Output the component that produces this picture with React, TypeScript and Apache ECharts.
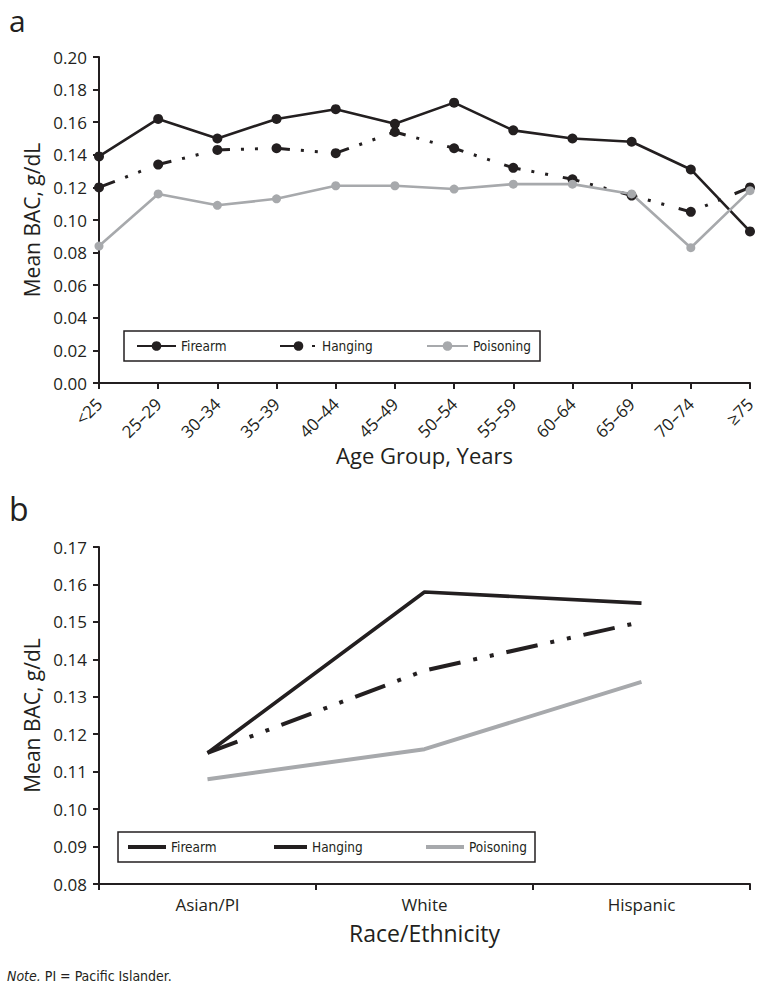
import React, { useEffect, useRef } from "react";
import * as echarts from "echarts";

// ---- Data (panel a: by age group) ----
const ageGroups = ["<25", "25–29", "30–34", "35–39", "40–44", "45–49", "50–54", "55–59", "60–64", "65–69", "70–74", "≥75"];
const firearmAge = [0.139, 0.162, 0.150, 0.162, 0.168, 0.159, 0.172, 0.155, 0.150, 0.148, 0.131, 0.093];
const hangingAge = [0.120, 0.134, 0.143, 0.144, 0.141, 0.154, 0.144, 0.132, 0.125, 0.115, 0.105, 0.120];
const poisoningAge = [0.084, 0.116, 0.109, 0.113, 0.121, 0.121, 0.119, 0.122, 0.122, 0.116, 0.083, 0.118];

// ---- Data (panel b: by race/ethnicity) ----
const raceGroups = ["Asian/PI", "White", "Hispanic"];
const firearmRace = [0.115, 0.158, 0.155];
const hangingRace = [0.115, 0.137, 0.150];
const poisoningRace = [0.108, 0.116, 0.134];

const seriesNames = ["Firearm", "Hanging", "Poisoning"];

const INK = "#231f20";
const GRAY = "#a7a9ac";
const SANS = "'Open Sans', 'Noto Sans', sans-serif";
const NARROW = "'Liberation Sans Narrow', 'DejaVu Sans Condensed', 'Open Sans', sans-serif";

export default function App() {
  const ref = useRef<HTMLDivElement>(null);

  useEffect(() => {
    const chart = echarts.init(ref.current as HTMLDivElement, null, { renderer: "svg" });

    const axisLine = { show: true, lineStyle: { color: INK, width: 2 } };
    const axisTick = { show: true, length: 6, lineStyle: { color: INK, width: 2 } };
    const labelBase = { fontFamily: SANS, fontSize: 17, color: INK };
    const legendText = { fontFamily: NARROW, fontSize: 13.5, color: INK, lineHeight: 16 };

    const mkLegend = (name: string, left: number, top: number, w: number, h: number, item: any) => ({
      show: true,
      selectedMode: false,
      left,
      top,
      padding: 0,
      itemWidth: w,
      itemHeight: h,
      textStyle: legendText,
      data: [{ name, ...item }],
    });

    const option: any = {
      animation: false,
      backgroundColor: "#ffffff",
      grid: [
        { left: 99, right: 16, top: 57, bottom: 606 },
        { left: 99, right: 16, top: 547, bottom: 105 },
      ],
      xAxis: [
        {
          type: "category",
          gridIndex: 0,
          data: ageGroups,
          boundaryGap: false,
          axisLine,
          axisTick: { ...axisTick, interval: 0 },
          axisLabel: { ...labelBase, interval: 0, rotate: 45, margin: 18, hideOverlap: false },
          name: "Age Group, Years",
          nameLocation: "middle",
          nameGap: 60,
          nameTextStyle: { fontFamily: SANS, fontSize: 22, color: INK },
        },
        {
          type: "category",
          gridIndex: 1,
          data: raceGroups,
          boundaryGap: true,
          axisLine,
          axisTick,
          axisLabel: { ...labelBase, interval: 0, margin: 12 },
          name: "Race/Ethnicity",
          nameLocation: "middle",
          nameGap: 37,
          nameTextStyle: { fontFamily: SANS, fontSize: 23, color: INK },
        },
      ],
      yAxis: [
        {
          type: "value",
          gridIndex: 0,
          min: 0,
          max: 0.2,
          interval: 0.02,
          axisLine,
          axisTick,
          splitLine: { show: false },
          axisLabel: { ...labelBase, margin: 12, formatter: (v: number) => v.toFixed(2) },
          name: "Mean BAC, g/dL",
          nameLocation: "middle",
          nameRotate: 90,
          nameGap: 56,
          nameTextStyle: { fontFamily: SANS, fontSize: 21, color: INK },
        },
        {
          type: "value",
          gridIndex: 1,
          min: 0.08,
          max: 0.17,
          interval: 0.01,
          axisLine,
          axisTick,
          splitLine: { show: false },
          axisLabel: { ...labelBase, margin: 12, formatter: (v: number) => v.toFixed(2) },
          name: "Mean BAC, g/dL",
          nameLocation: "middle",
          nameRotate: 90,
          nameGap: 56,
          nameTextStyle: { fontFamily: SANS, fontSize: 21, color: INK },
        },
      ],
      series: [
        {
          name: seriesNames[0],
          type: "line",
          xAxisIndex: 0,
          yAxisIndex: 0,
          data: firearmAge,
          color: INK,
          symbol: "circle",
          symbolSize: 10,
          lineStyle: { color: INK, width: 2.6 },
          itemStyle: { color: INK, borderWidth: 0 },
        },
        {
          name: seriesNames[1],
          type: "line",
          xAxisIndex: 0,
          yAxisIndex: 0,
          data: hangingAge,
          color: INK,
          symbol: "circle",
          symbolSize: 10,
          lineStyle: { color: INK, width: 3, type: [17, 11, 3, 11, 3, 15] },
          itemStyle: { color: INK, borderWidth: 0 },
        },
        {
          name: seriesNames[2],
          type: "line",
          xAxisIndex: 0,
          yAxisIndex: 0,
          data: poisoningAge,
          color: GRAY,
          symbol: "circle",
          symbolSize: 9,
          lineStyle: { color: GRAY, width: 2.6 },
          itemStyle: { color: GRAY, borderWidth: 0 },
        },
        {
          name: seriesNames[0],
          type: "line",
          xAxisIndex: 1,
          yAxisIndex: 1,
          data: firearmRace,
          color: INK,
          symbol: "none",
          lineStyle: { color: INK, width: 3.6 },
        },
        {
          name: seriesNames[1],
          type: "line",
          xAxisIndex: 1,
          yAxisIndex: 1,
          data: hangingRace,
          color: INK,
          symbol: "none",
          lineStyle: { color: INK, width: 4, type: [32, 13, 4, 13, 4, 13] },
        },
        {
          name: seriesNames[2],
          type: "line",
          xAxisIndex: 1,
          yAxisIndex: 1,
          data: poisoningRace,
          color: GRAY,
          symbol: "none",
          lineStyle: { color: GRAY, width: 4 },
        },
      ],
      legend: [
        mkLegend(seriesNames[0], 136, 338, 39, 12, {}),
        mkLegend(seriesNames[1], 279, 338, 37, 12, { lineStyle: { type: [20, 12, 3, 60] } }),
        mkLegend(seriesNames[2], 426, 338, 41, 12, {}),
        mkLegend(seriesNames[0], 128, 839, 38, 4, { icon: "rect", itemStyle: { color: INK, borderWidth: 0 } }),
        mkLegend(seriesNames[1], 274, 839, 33, 4, { icon: "rect", itemStyle: { color: INK, borderWidth: 0 } }),
        mkLegend(seriesNames[2], 426, 839, 38, 4, { icon: "rect", itemStyle: { color: GRAY, borderWidth: 0 } }),
      ],
      graphic: [
        {
          type: "rect",
          silent: true,
          z: 1,
          shape: { x: 124, y: 331, width: 416, height: 30 },
          style: { fill: "none", stroke: INK, lineWidth: 1.5 },
        },
        {
          type: "rect",
          silent: true,
          z: 1,
          shape: { x: 118, y: 832, width: 417, height: 30 },
          style: { fill: "none", stroke: INK, lineWidth: 1.5 },
        },
        {
          type: "text",
          silent: true,
          style: { text: "a", x: 9, y: 20, fontFamily: SANS, fontSize: 30, lineHeight: 30, fill: INK, verticalAlign: "middle" },
        },
        {
          type: "text",
          silent: true,
          style: { text: "b", x: 9, y: 508, fontFamily: SANS, fontSize: 32, lineHeight: 30, fill: INK, verticalAlign: "middle" },
        },
        {
          type: "text",
          silent: true,
          style: {
            text: "{i|Note.} PI = Pacific Islander.",
            x: 7,
            y: 976,
            fontFamily: NARROW,
            fontSize: 14,
            fill: INK,
            verticalAlign: "middle",
            rich: { i: { fontStyle: "italic", fontFamily: NARROW, fontSize: 14, fill: INK } },
          },
        },
      ],
    };

    chart.setOption(option);
    return () => chart.dispose();
  }, []);

  return (
    <div
      ref={ref}
      style={{ position: "absolute", left: 0, top: 0, width: 766, height: 989, background: "#fff" }}
    />
  );
}
